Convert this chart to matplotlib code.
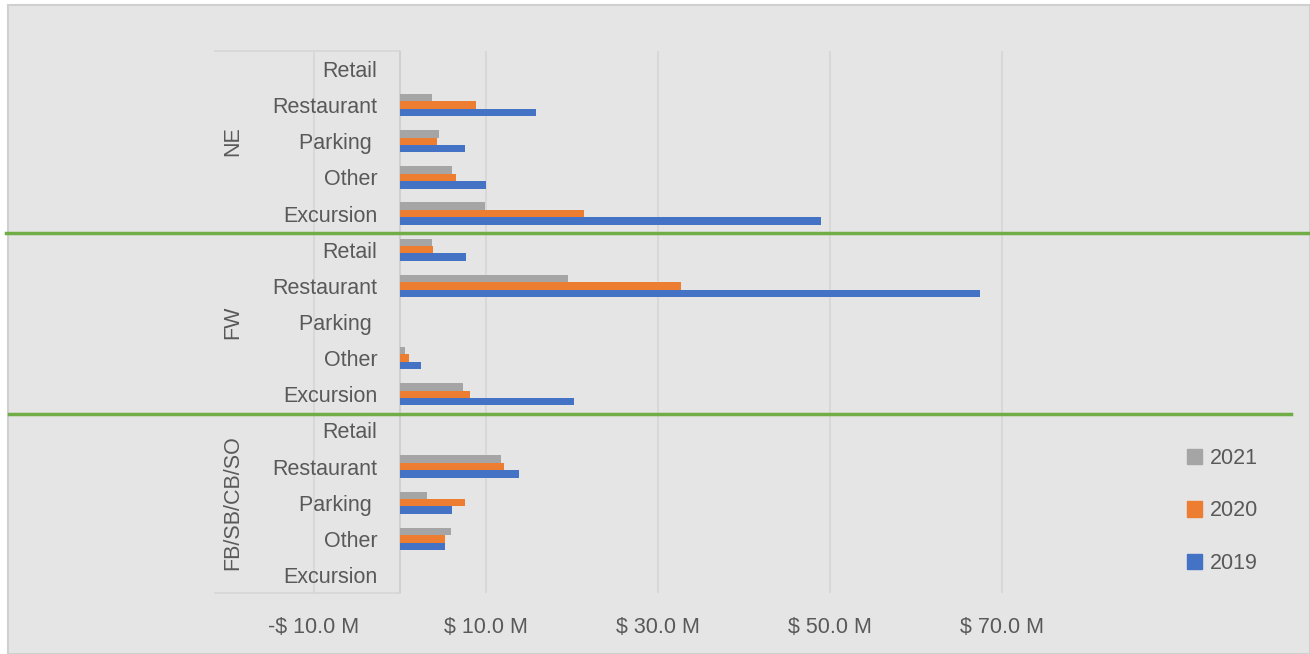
import matplotlib.pyplot as plt
import matplotlib.patches as mpatches
from matplotlib.lines import Line2D

plt.rcParams['font.family'] = ['Liberation Sans', 'DejaVu Sans']

# Data ($ M), groups listed top to bottom, categories top to bottom
groups = ['NE', 'FW', 'FB/SB/CB/SO']
categories = ['Retail', 'Restaurant', 'Parking ', 'Other', 'Excursion']
series = ['2021', '2020', '2019']
colors = ['#A5A5A5', '#ED7D31', '#4472C4']

v2021 = [0, 3.7, 4.5, 6.0, 9.9,
         3.7, 19.5, 0, 0.6, 7.3,
         0, 11.8, 3.1, 5.9, 0]
v2020 = [0, 8.8, 4.3, 6.5, 21.4,
         3.8, 32.7, 0, 1.1, 8.2,
         0, 12.1, 7.6, 5.2, 0]
v2019 = [0, 15.8, 7.6, 10.0, 49.0,
         7.7, 67.4, 0, 2.5, 20.2,
         0, 13.8, 6.1, 5.2, 0]

ticks = [-10, 10, 30, 50, 70]
tick_labels = ['-$ 10.0 M', '$ 10.0 M', '$ 30.0 M', '$ 50.0 M', '$ 70.0 M']

W, H = 1310, 654
bg = '#E5E5E5'
txt = '#595959'
grid_c = '#D6D6D6'
fs = 15.5

fig = plt.figure(figsize=(W / 100, H / 100), dpi=100)
fig.patch.set_facecolor('white')
# chart area with border
fig.patches.append(mpatches.Rectangle((8 / W, 0), 1 - 8 / W, 1 - 5 / H, transform=fig.transFigure,
                                      facecolor=bg, edgecolor='#D0D0D0', linewidth=1.5, zorder=-5))

ax = fig.add_axes([215 / W, (H - 593) / H, 873 / W, 542 / H])
ax.set_facecolor('none')
ax.set_xlim(-21.5, 80)
n = len(groups) * len(categories)
ax.set_ylim(n - 0.5, -0.5)

bh = 0.205
ypos = list(range(n))
for k, (vals, c, lab) in enumerate(zip([v2021, v2020, v2019], colors, series)):
    off = (k - 1) * bh
    ax.barh([y + off for y in ypos], vals, height=bh, color=c, label=lab, zorder=3)

for t in ticks:
    ax.axvline(t, color=grid_c, linewidth=1.2, zorder=1)
ax.axvline(0, color='#D0D0D0', linewidth=1.5, zorder=2)
ax.plot([-21.5, 0], [-0.5, -0.5], color=grid_c, linewidth=1.2, zorder=1, clip_on=False)
ax.plot([-21.5, 0], [n - 0.5, n - 0.5], color=grid_c, linewidth=1.2, zorder=1, clip_on=False)

for s in ax.spines.values():
    s.set_visible(False)
ax.set_yticks([])
ax.set_xticks(ticks)
ax.set_xticklabels(tick_labels)
ax.tick_params(axis='x', length=0, pad=17, labelsize=fs, labelcolor=txt)

# category and group labels
for gi, g in enumerate(groups):
    for ci, cat in enumerate(categories):
        y = gi * len(categories) + ci
        ax.text(-2.6, y, cat, ha='right', va='center_baseline', fontsize=fs, color=txt)
    ax.text(-19.4, gi * len(categories) + 2, g, rotation=90, ha='center', va='center',
            fontsize=fs, color=txt)

# green divider lines
fig.add_artist(Line2D([6 / W, 1.0], [1 - 233 / H] * 2, color='#70AD47', linewidth=2.5))
fig.add_artist(Line2D([9 / W, 1291 / W], [1 - 414 / H] * 2, color='#70AD47', linewidth=2.5))

handles = [mpatches.Patch(color=c, label=s) for c, s in zip(colors, series)]
leg = fig.legend(handles=handles, loc='center left', bbox_to_anchor=(1168 / W, 1 - 511 / H),
                 frameon=False, fontsize=fs, labelcolor=txt, handlelength=0.7, handleheight=0.7,
                 handletextpad=0.35, labelspacing=1.45)

fig.savefig('out.png', dpi=100, facecolor=fig.get_facecolor())
